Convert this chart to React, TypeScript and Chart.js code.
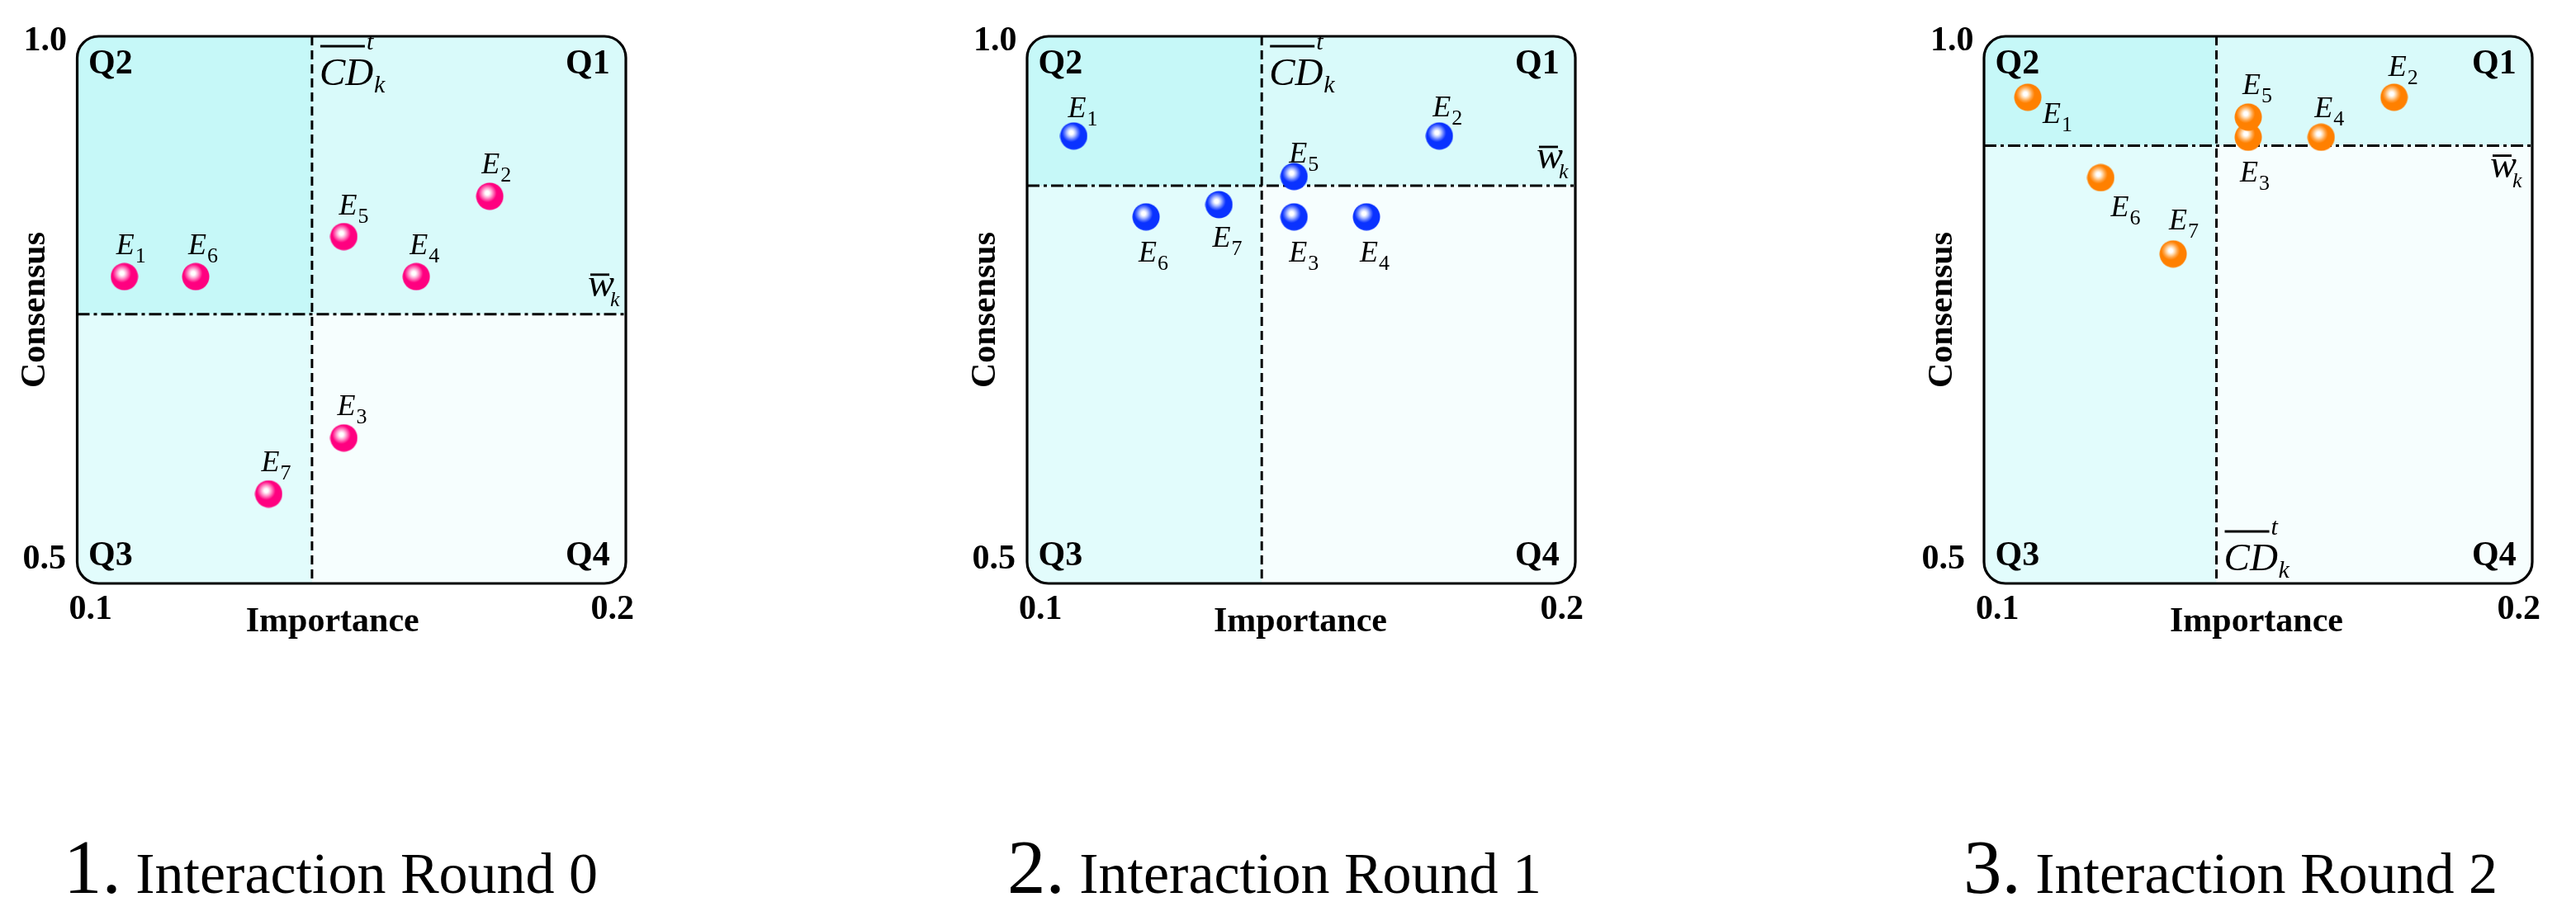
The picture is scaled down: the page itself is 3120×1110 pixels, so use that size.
import React, { useEffect, useRef } from 'react';
import { Chart, registerables } from 'chart.js';

Chart.register(...registerables);

// ---------------- data ----------------
const EXPERT_INDEX = ['1', '2', '3', '4', '5', '6', '7'];

const R0_IMPORTANCE = [0.1086, 0.1752, 0.1486, 0.1618, 0.1486, 0.1216, 0.1349];
const R0_CONSENSUS = [0.7804, 0.8538, 0.633, 0.7804, 0.817, 0.7804, 0.5818];

const R1_IMPORTANCE = [0.1085, 0.1752, 0.1487, 0.1619, 0.1487, 0.1217, 0.135];
const R1_CONSENSUS = [0.9089, 0.9089, 0.835, 0.835, 0.8719, 0.835, 0.8462];

const R2_IMPORTANCE = [0.108, 0.1748, 0.1482, 0.1615, 0.1482, 0.1213, 0.1345];
const R2_CONSENSUS = [0.9443, 0.9443, 0.9078, 0.9078, 0.9262, 0.8708, 0.8011];

const CD_THRESHOLD = [0.1428, 0.1428, 0.1424];
const W_THRESHOLD = [0.746, 0.8635, 0.9];

const X_TICKS = [0.1, 0.2];
const X_TICK_LABELS = ['0.1', '0.2'];
const Y_TICKS = [0.5, 1.0];
const Y_TICK_LABELS = ['0.5', '1.0'];

const X_TITLE = 'Importance';
const Y_TITLE = 'Consensus';
const QUADRANT_NAMES = ['Q1', 'Q2', 'Q3', 'Q4'];
const CAPTION_NUMBERS = ['1.', '2.', '3.'];
const CAPTION_TEXTS = ['Interaction Round 0', 'Interaction Round 1', 'Interaction Round 2'];

// ---------------- styles / layout ----------------
const SERIF = '"Liberation Serif", "Times New Roman", serif';
const CANVAS_W = 1040;
const CANVAS_H = 1110;
const BOX_TOP = 44;
const BOX_BOTTOM = 707;

type Panel = {
  offset: number;
  boxLeft: number;
  boxRight: number;
  xs: number[];
  ys: number[];
  cd: number;
  w: number;
  colors: [string, string, string];
  labelOffsets: [number, number][];
  titleShift: number;
  captionLeft: number;
  cdBottom: boolean;
  wLabel: [number, number];
  y05Gap: number;
  num: string;
  text: string;
};

const PANELS: Panel[] = [
  {
    offset: 0, boxLeft: 93.5, boxRight: 758,
    xs: R0_IMPORTANCE, ys: R0_CONSENSUS, cd: CD_THRESHOLD[0], w: W_THRESHOLD[0],
    colors: ['#FF0080', '#FF5CAE', '#FFB8DC'],
    labelOffsets: [[-10, -27], [-10, -28], [-8, -28], [-8, -27], [-6, -27], [-9, -27], [-9, -28]],
    titleShift: -23, captionLeft: 77, cdBottom: false, wLabel: [-46, -22], y05Gap: 13.5,
    num: CAPTION_NUMBERS[0], text: CAPTION_TEXTS[0],
  },
  {
    offset: 1040, boxLeft: 1244, boxRight: 1908,
    xs: R1_IMPORTANCE, ys: R1_CONSENSUS, cd: CD_THRESHOLD[1], w: W_THRESHOLD[1],
    colors: ['#0A32FF', '#5C78FF', '#BAC8FF'],
    labelOffsets: [[-7, -23], [-8, -24], [-6, 54], [-8, 54], [-6, -17], [-9, 54], [-8, 51]],
    titleShift: -1, captionLeft: 1220, cdBottom: false, wLabel: [-47, -21], y05Gap: 14,
    num: CAPTION_NUMBERS[1], text: CAPTION_TEXTS[1],
  },
  {
    offset: 2080, boxLeft: 2403, boxRight: 3067,
    xs: R2_IMPORTANCE, ys: R2_CONSENSUS, cd: CD_THRESHOLD[2], w: W_THRESHOLD[2],
    colors: ['#FF8000', '#FFA64A', '#FFD9AC'],
    labelOffsets: [[18, 31], [-7, -26], [-10, 54], [-8, -24], [-7, -28], [12, 47], [-5, -30]],
    titleShift: -2, captionLeft: 2378, cdBottom: true, wLabel: [-51, 38], y05Gap: 23,
    num: CAPTION_NUMBERS[2], text: CAPTION_TEXTS[2],
  },
];

const Q_FILLS = { q1: '#D9FAFA', q2: '#C6F8F8', q3: '#E2FCFC', q4: '#F6FEFE' };

function makeSphere(body: string, mid: string, light: string) {
  const s = 34;
  const r = 16.5;
  const c = document.createElement('canvas');
  c.width = s;
  c.height = s;
  const g = c.getContext('2d')!;
  const cx = s / 2;
  const cy = s / 2;
  const hx = cx - 3;
  const hy = cy - 4;
  const grad = g.createRadialGradient(hx, hy, 0, hx, hy, r * 1.1);
  grad.addColorStop(0, '#ffffff');
  grad.addColorStop(0.13, '#ffffff');
  grad.addColorStop(0.28, light);
  grad.addColorStop(0.45, mid);
  grad.addColorStop(0.62, body);
  grad.addColorStop(1, body);
  g.fillStyle = grad;
  g.beginPath();
  g.arc(cx, cy, r, 0, Math.PI * 2);
  g.fill();
  return c;
}

function roundRectPath(ctx: CanvasRenderingContext2D, l: number, t: number, r: number, b: number, rad: number) {
  ctx.beginPath();
  ctx.moveTo(l + rad, t);
  ctx.lineTo(r - rad, t);
  ctx.arcTo(r, t, r, t + rad, rad);
  ctx.lineTo(r, b - rad);
  ctx.arcTo(r, b, r - rad, b, rad);
  ctx.lineTo(l + rad, b);
  ctx.arcTo(l, b, l, b - rad, rad);
  ctx.lineTo(l, t + rad);
  ctx.arcTo(l, t, l + rad, t, rad);
  ctx.closePath();
}

function makePlugin(p: Panel) {
  return {
    id: 'quadrantDecor',
    beforeDatasetsDraw(chart: any) {
      const { ctx, chartArea } = chart;
      const { left, top, right, bottom } = chartArea;
      const xs = chart.scales.x;
      const ys = chart.scales.y;
      const vx = xs.getPixelForValue(p.cd);
      const hy = ys.getPixelForValue(p.w);
      ctx.save();
      roundRectPath(ctx, left, top, right, bottom, 26);
      ctx.clip();
      ctx.fillStyle = Q_FILLS.q2;
      ctx.fillRect(left, top, vx - left, hy - top);
      ctx.fillStyle = Q_FILLS.q1;
      ctx.fillRect(vx, top, right - vx, hy - top);
      ctx.fillStyle = Q_FILLS.q3;
      ctx.fillRect(left, hy, vx - left, bottom - hy);
      ctx.fillStyle = Q_FILLS.q4;
      ctx.fillRect(vx, hy, right - vx, bottom - hy);

      ctx.strokeStyle = '#000';
      ctx.lineWidth = 3;
      ctx.setLineDash([11, 6]);
      ctx.beginPath();
      ctx.moveTo(vx, top);
      ctx.lineTo(vx, bottom);
      ctx.stroke();
      ctx.setLineDash([15, 5, 4, 5]);
      ctx.beginPath();
      ctx.moveTo(left, hy);
      ctx.lineTo(right, hy);
      ctx.stroke();
      ctx.restore();

      ctx.save();
      ctx.strokeStyle = '#000';
      ctx.lineWidth = 3.2;
      roundRectPath(ctx, left, top, right, bottom, 26);
      ctx.stroke();
      ctx.restore();
    },
    afterDatasetsDraw(chart: any) {
      const { ctx, chartArea } = chart;
      const { left, top, right, bottom } = chartArea;
      const xs = chart.scales.x;
      const ys = chart.scales.y;
      const vx = xs.getPixelForValue(p.cd);
      const hy = ys.getPixelForValue(p.w);
      ctx.save();
      ctx.fillStyle = '#000';
      ctx.textBaseline = 'alphabetic';
      ctx.textAlign = 'left';

      const meta = chart.getDatasetMeta(0);
      meta.data.forEach((pt: any, i: number) => {
        const [dx, dy] = p.labelOffsets[i];
        const x0 = pt.x + dx;
        const y0 = pt.y + dy;
        ctx.font = `italic 36px ${SERIF}`;
        ctx.fillText('E', x0, y0);
        const ew = ctx.measureText('E').width;
        ctx.font = `26px ${SERIF}`;
        ctx.fillText(EXPERT_INDEX[i], x0 + ew + 1, y0 + 10);
      });

      ctx.font = `bold 42px ${SERIF}`;
      ctx.fillText(QUADRANT_NAMES[1], left + 13.5, top + 45);
      ctx.fillText(QUADRANT_NAMES[0], right - 73, top + 45);
      ctx.fillText(QUADRANT_NAMES[2], left + 13.5, bottom - 22);
      ctx.fillText(QUADRANT_NAMES[3], right - 73, bottom - 22);

      const cx0 = vx + 9;
      const cb = p.cdBottom ? bottom - 16 : top + 59;
      ctx.font = `italic 47px ${SERIF}`;
      ctx.fillText('CD', cx0, cb);
      ctx.lineWidth = 2.8;
      ctx.strokeStyle = '#000';
      ctx.beginPath();
      ctx.moveTo(cx0 + 1, cb - 47);
      ctx.lineTo(cx0 + 55, cb - 47);
      ctx.stroke();
      ctx.font = `italic 30px ${SERIF}`;
      ctx.fillText('t', cx0 + 57, cb - 43);
      ctx.fillText('k', cx0 + 66, cb + 9);

      const wx = right + p.wLabel[0];
      const wb = hy + p.wLabel[1];
      ctx.font = `italic 48px ${SERIF}`;
      ctx.fillText('w', wx, wb);
      ctx.beginPath();
      ctx.moveTo(wx + 3, wb - 26);
      ctx.lineTo(wx + 26, wb - 26);
      ctx.stroke();
      ctx.font = `italic 26px ${SERIF}`;
      ctx.fillText('k', wx + 27, wb + 12);
      ctx.restore();
    },
    afterDraw(chart: any) {
      const { ctx, chartArea } = chart;
      const { left, top, right, bottom } = chartArea;
      const xs = chart.scales.x;
      const ys = chart.scales.y;
      ctx.save();
      ctx.fillStyle = '#000';
      ctx.textBaseline = 'alphabetic';
      ctx.font = `bold 42px ${SERIF}`;

      X_TICKS.forEach((v, i) => {
        const px = xs.getPixelForValue(v);
        if (i === 0) {
          ctx.textAlign = 'left';
          ctx.fillText(X_TICK_LABELS[i], px - 10, bottom + 43);
        } else {
          ctx.textAlign = 'right';
          ctx.fillText(X_TICK_LABELS[i], px + 10, bottom + 43);
        }
      });
      Y_TICKS.forEach((v, i) => {
        const py = ys.getPixelForValue(v);
        ctx.textAlign = 'right';
        if (i === 0) ctx.fillText(Y_TICK_LABELS[i], left - p.y05Gap, py - 18);
        else ctx.fillText(Y_TICK_LABELS[i], left - 12.5, py + 17);
      });

      ctx.textAlign = 'center';
      ctx.fillText(X_TITLE, (left + right) / 2 + p.titleShift, bottom + 58);
      ctx.save();
      ctx.translate(left - 39.5, (top + bottom) / 2);
      ctx.rotate(-Math.PI / 2);
      ctx.fillText(Y_TITLE, 0, 0);
      ctx.restore();

      ctx.textAlign = 'left';
      const capX = p.captionLeft - p.offset;
      ctx.font = `93px ${SERIF}`;
      ctx.fillText(p.num, capX, 1082);
      const nw = ctx.measureText(p.num).width;
      ctx.font = `70px ${SERIF}`;
      ctx.fillText(' ' + p.text, capX + nw, 1082);
      ctx.restore();
    },
  };
}

function PanelChart({ p }: { p: Panel }) {
  const ref = useRef<HTMLCanvasElement | null>(null);
  useEffect(() => {
    const canvas = ref.current;
    if (!canvas) return;
    const sphere = makeSphere(p.colors[0], p.colors[1], p.colors[2]);
    const points = p.xs.map((x, i) => ({ x, y: p.ys[i] }));
    const chart = new Chart(canvas, {
      type: 'scatter',
      data: {
        datasets: [
          {
            data: points,
            pointStyle: sphere as any,
            pointRadius: 17,
            pointHoverRadius: 17,
          },
        ],
      },
      options: {
        animation: false,
        responsive: false,
        devicePixelRatio: 1,
        events: [],
        layout: {
          padding: {
            left: p.boxLeft - p.offset,
            right: CANVAS_W - (p.boxRight - p.offset),
            top: BOX_TOP,
            bottom: CANVAS_H - BOX_BOTTOM,
          },
        },
        scales: {
          x: { type: 'linear', min: X_TICKS[0], max: X_TICKS[1], display: false },
          y: { type: 'linear', min: Y_TICKS[0], max: Y_TICKS[1], display: false },
        },
        plugins: {
          legend: { display: false },
          tooltip: { enabled: false },
        },
      } as any,
      plugins: [makePlugin(p)],
    });
    return () => chart.destroy();
  }, [p]);
  return (
    <canvas
      ref={ref}
      width={CANVAS_W}
      height={CANVAS_H}
      style={{ position: 'absolute', left: p.offset, top: 0, width: CANVAS_W, height: CANVAS_H, display: 'block' }}
    />
  );
}

export default function App() {
  useEffect(() => {
    document.body.style.margin = '0';
    document.body.style.background = '#fff';
  }, []);
  return (
    <div style={{ position: 'fixed', left: 0, top: 0, width: 3120, height: 1110, background: '#fff', overflow: 'hidden' }}>
      {PANELS.map((p, i) => (
        <PanelChart key={i} p={p} />
      ))}
    </div>
  );
}
